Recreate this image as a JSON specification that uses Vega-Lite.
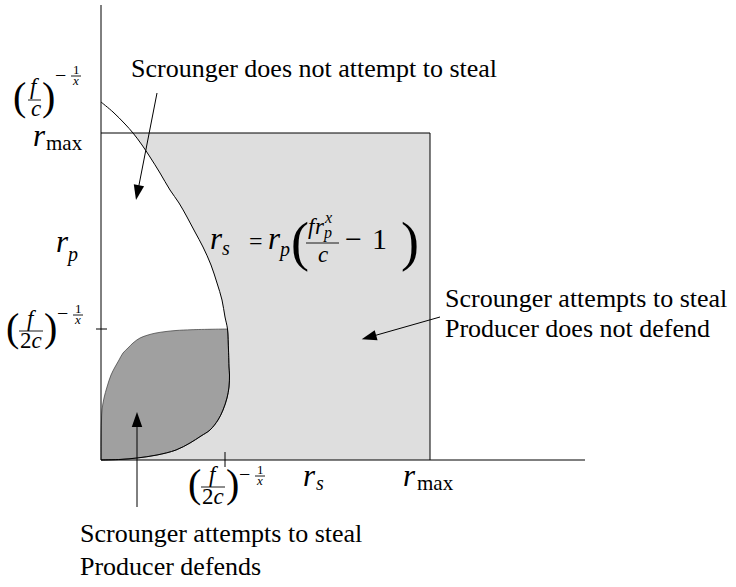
{
  "$schema": "https://vega.github.io/schema/vega-lite/v6.json",
  "width": 736,
  "height": 587,
  "padding": 0,
  "autosize": {"type": "none"},
  "config": {"view": {"stroke": null}},
  "datasets": {
    "curve": [
      {"X": 0, "Y": 0}, {"X": 20, "Y": 0.6}, {"X": 36, "Y": 2}, {"X": 56, "Y": 5}, {"X": 75, "Y": 10},
      {"X": 89, "Y": 17}, {"X": 100, "Y": 24}, {"X": 109, "Y": 30}, {"X": 117, "Y": 40}, {"X": 122, "Y": 50},
      {"X": 126, "Y": 62}, {"X": 128, "Y": 73}, {"X": 128.5, "Y": 85}, {"X": 128, "Y": 93}, {"X": 127.8, "Y": 100},
      {"X": 127.5, "Y": 110}, {"X": 126.5, "Y": 131}, {"X": 124, "Y": 143}, {"X": 121, "Y": 160}, {"X": 116, "Y": 177},
      {"X": 110, "Y": 195}, {"X": 102, "Y": 213}, {"X": 94, "Y": 228}, {"X": 86, "Y": 243}, {"X": 78, "Y": 257},
      {"X": 69, "Y": 270}, {"X": 59, "Y": 287}, {"X": 49, "Y": 303}, {"X": 41, "Y": 315}, {"X": 32, "Y": 327},
      {"X": 24, "Y": 336}, {"X": 12, "Y": 348}, {"X": 0, "Y": 358}
    ],
    "lens": [
      {"Y": 0, "X": 0, "X2": 2}, {"Y": 0.6, "X": 0, "X2": 20}, {"Y": 2, "X": 0, "X2": 36}, {"Y": 5, "X": 0, "X2": 56},
      {"Y": 10, "X": 0, "X2": 75}, {"Y": 17, "X": 0, "X2": 89}, {"Y": 24, "X": 0.1, "X2": 100}, {"Y": 30, "X": 0.2, "X2": 109},
      {"Y": 40, "X": 0.5, "X2": 117}, {"Y": 50, "X": 1, "X2": 122}, {"Y": 62, "X": 3, "X2": 126}, {"Y": 73, "X": 6, "X2": 128},
      {"Y": 85, "X": 10, "X2": 128.5}, {"Y": 93, "X": 14, "X2": 128}, {"Y": 100, "X": 18, "X2": 127.8}, {"Y": 107, "X": 22, "X2": 127.6},
      {"Y": 112, "X": 27, "X2": 127.4}, {"Y": 117, "X": 32, "X2": 127.2}, {"Y": 122, "X": 39, "X2": 127}, {"Y": 125, "X": 47, "X2": 126.9},
      {"Y": 127, "X": 55, "X2": 126.8}, {"Y": 128.5, "X": 65, "X2": 126.7}, {"Y": 129.5, "X": 75, "X2": 126.6}, {"Y": 130.3, "X": 91, "X2": 126.5},
      {"Y": 131, "X": 126, "X2": 126.5}
    ],
    "segs": [
      {"X": 0, "Y": 0, "X2": 0, "Y2": 455},
      {"X": 0, "Y": 0, "X2": 484, "Y2": 0},
      {"X": 0, "Y": 327, "X2": 329, "Y2": 327},
      {"X": 329, "Y": 0, "X2": 329, "Y2": 327},
      {"X": -5, "Y": 131, "X2": 6, "Y2": 131},
      {"X": 124, "Y": -7, "X2": 124, "Y2": 8},
      {"X": 56, "Y": 367, "X2": 36.6, "Y2": 267.8},
      {"X": 339, "Y": 143, "X2": 268.4, "Y2": 122.9},
      {"X": 36, "Y": -47, "X2": 36, "Y2": 40}
    ],
    "bars": [
      {"X": -73, "Y": 360, "X2": -60, "Y2": 360},
      {"X": -30, "Y": 384, "X2": -20, "Y2": 384},
      {"X": -82, "Y": 129, "X2": -58, "Y2": 129},
      {"X": -28, "Y": 145, "X2": -18, "Y2": 145},
      {"X": 100, "Y": -27, "X2": 124, "Y2": -27},
      {"X": 154, "Y": -16, "X2": 164, "Y2": -16},
      {"X": 205, "Y": 217, "X2": 238, "Y2": 217}
    ],
    "heads": [
      {"k": "a1", "X": 35, "Y": 260},
      {"k": "a2", "X": 260.7, "Y": 120.7},
      {"k": "a3", "X": 36, "Y": 48}
    ],
    "rm26": [
      {"X": 30, "Y": 383, "T": "Scrounger does not attempt to steal"},
      {"X": 344, "Y": 153, "T": "Scrounger attempts to steal"},
      {"X": 344, "Y": 123, "T": "Producer does not defend"},
      {"X": -21, "Y": -82, "T": "Scrounger attempts to steal"},
      {"X": -21, "Y": -115, "T": "Producer defends"}
    ],
    "rm23": [
      {"X": -81, "Y": 112, "T": "2"},
      {"X": 101, "Y": -44, "T": "2"}
    ],
    "it23": [
      {"X": -71, "Y": 366, "T": "f"}, {"X": -70, "Y": 344, "T": "c"},
      {"X": -74, "Y": 134, "T": "f"}, {"X": -69.5, "Y": 112, "T": "c"},
      {"X": 108, "Y": -22, "T": "f"}, {"X": 112.5, "Y": -44, "T": "c"},
      {"X": 207, "Y": 226, "T": "f"}, {"X": 214, "Y": 226, "T": "r"}, {"X": 217, "Y": 198, "T": "c"}
    ],
    "it31": [
      {"X": -68, "Y": 314, "T": "r"}, {"X": -45, "Y": 208, "T": "r"},
      {"X": 202, "Y": -26, "T": "r"}, {"X": 302, "Y": -26, "T": "r"},
      {"X": 109, "Y": 211, "T": "r"}, {"X": 167, "Y": 211, "T": "r"}
    ],
    "it20": [
      {"X": -33, "Y": 199, "T": "p"}, {"X": 215, "Y": -30, "T": "s"},
      {"X": 121, "Y": 205, "T": "s"}, {"X": 179, "Y": 204, "T": "p"}
    ],
    "rm21": [
      {"X": -55, "Y": 310, "T": "max"}, {"X": 316, "Y": -30, "T": "max"}
    ],
    "it16": [
      {"X": 223, "Y": 222, "T": "p"}, {"X": 224, "Y": 237, "T": "x"}
    ],
    "rm20": [
      {"X": -46, "Y": 378, "T": "−"}, {"X": -44, "Y": 140, "T": "−"}, {"X": 138, "Y": -21, "T": "−"}
    ],
    "rm13": [
      {"X": -28, "Y": 386, "T": "1"}, {"X": -26, "Y": 147, "T": "1"}, {"X": 156, "Y": -14, "T": "1"}
    ],
    "it13": [
      {"X": -28, "Y": 375, "T": "x"}, {"X": -26, "Y": 136, "T": "x"}, {"X": 156, "Y": -25, "T": "x"}
    ],
    "rm24": [
      {"X": 148, "Y": 211, "T": "="}
    ],
    "rm30": [
      {"X": 244, "Y": 211, "T": "−"}, {"X": 271, "Y": 211, "T": "1"}
    ],
    "paren40": [
      {"X": -88, "Y": 350, "T": "("}, {"X": -59, "Y": 350, "T": ")"},
      {"X": -95, "Y": 119, "T": "("}, {"X": -57, "Y": 119, "T": ")"},
      {"X": 87, "Y": -37, "T": "("}, {"X": 125, "Y": -37, "T": ")"}
    ],
    "paren54": [
      {"X": 190, "Y": 200.5, "T": "("}, {"X": 300, "Y": 200.5, "T": ")"}
    ]
  },
  "encoding": {
    "x": {"field": "X", "type": "quantitative", "scale": {"domain": [-101, 635], "nice": false, "zero": false}, "axis": null},
    "y": {"field": "Y", "type": "quantitative", "scale": {"domain": [-127, 460], "nice": false, "zero": false}, "axis": null}
  },
  "layer": [
    {
      "data": {"name": "curve"},
      "transform": [{"filter": "datum.Y <= 327"}],
      "mark": {"type": "area", "orient": "horizontal", "color": "#dedede", "interpolate": "catmull-rom"},
      "encoding": {"x2": {"datum": 329}}
    },
    {
      "data": {"name": "lens"},
      "mark": {"type": "area", "orient": "horizontal", "color": "#a0a0a0", "stroke": "#3a3a3a", "strokeWidth": 0.7, "interpolate": "catmull-rom"},
      "encoding": {"x2": {"field": "X2"}}
    },
    {
      "data": {"name": "curve"},
      "mark": {"type": "line", "color": "black", "strokeWidth": 1, "interpolate": "catmull-rom"},
      "encoding": {"order": {"field": "Y", "type": "quantitative"}}
    },
    {
      "data": {"name": "segs"},
      "mark": {"type": "rule", "color": "black", "strokeWidth": 1},
      "encoding": {"x2": {"field": "X2"}, "y2": {"field": "Y2"}}
    },
    {
      "data": {"name": "bars"},
      "mark": {"type": "rule", "color": "black", "strokeWidth": 0.9},
      "encoding": {"x2": {"field": "X2"}, "y2": {"field": "Y2"}}
    },
    {
      "data": {"name": "heads"},
      "transform": [{"filter": "datum.k == 'a1'"}],
      "mark": {"type": "point", "shape": "M0,0L-0.35,1L0.35,1Z", "size": 900, "filled": true, "color": "black", "opacity": 1, "angle": 191.3}
    },
    {
      "data": {"name": "heads"},
      "transform": [{"filter": "datum.k == 'a2'"}],
      "mark": {"type": "point", "shape": "M0,0L-0.35,1L0.35,1Z", "size": 900, "filled": true, "color": "black", "opacity": 1, "angle": 254.25}
    },
    {
      "data": {"name": "heads"},
      "transform": [{"filter": "datum.k == 'a3'"}],
      "mark": {"type": "point", "shape": "M0,0L-0.35,1L0.35,1Z", "size": 900, "filled": true, "color": "black", "opacity": 1, "angle": 0}
    },
    {
      "data": {"name": "rm26"},
      "mark": {"type": "text", "font": "Liberation Serif", "fontSize": 26, "align": "left", "baseline": "alphabetic", "color": "black"},
      "encoding": {"text": {"field": "T"}}
    },
    {
      "data": {"name": "rm23"},
      "mark": {"type": "text", "font": "Liberation Serif", "fontSize": 23, "align": "left", "baseline": "alphabetic", "color": "black"},
      "encoding": {"text": {"field": "T"}}
    },
    {
      "data": {"name": "it23"},
      "mark": {"type": "text", "font": "Liberation Serif", "fontStyle": "italic", "fontSize": 23, "align": "left", "baseline": "alphabetic", "color": "black"},
      "encoding": {"text": {"field": "T"}}
    },
    {
      "data": {"name": "it31"},
      "mark": {"type": "text", "font": "Liberation Serif", "fontStyle": "italic", "fontSize": 31, "align": "left", "baseline": "alphabetic", "color": "black"},
      "encoding": {"text": {"field": "T"}}
    },
    {
      "data": {"name": "it20"},
      "mark": {"type": "text", "font": "Liberation Serif", "fontStyle": "italic", "fontSize": 20, "align": "left", "baseline": "alphabetic", "color": "black"},
      "encoding": {"text": {"field": "T"}}
    },
    {
      "data": {"name": "rm21"},
      "mark": {"type": "text", "font": "Liberation Serif", "fontSize": 21, "align": "left", "baseline": "alphabetic", "color": "black"},
      "encoding": {"text": {"field": "T"}}
    },
    {
      "data": {"name": "it16"},
      "mark": {"type": "text", "font": "Liberation Serif", "fontStyle": "italic", "fontSize": 16, "align": "left", "baseline": "alphabetic", "color": "black"},
      "encoding": {"text": {"field": "T"}}
    },
    {
      "data": {"name": "rm20"},
      "mark": {"type": "text", "font": "Liberation Serif", "fontSize": 20, "align": "left", "baseline": "alphabetic", "color": "black"},
      "encoding": {"text": {"field": "T"}}
    },
    {
      "data": {"name": "rm13"},
      "mark": {"type": "text", "font": "Liberation Serif", "fontSize": 13, "align": "left", "baseline": "alphabetic", "color": "black"},
      "encoding": {"text": {"field": "T"}}
    },
    {
      "data": {"name": "it13"},
      "mark": {"type": "text", "font": "Liberation Serif", "fontStyle": "italic", "fontSize": 13, "align": "left", "baseline": "alphabetic", "color": "black"},
      "encoding": {"text": {"field": "T"}}
    },
    {
      "data": {"name": "rm24"},
      "mark": {"type": "text", "font": "Liberation Serif", "fontSize": 24, "align": "left", "baseline": "alphabetic", "color": "black"},
      "encoding": {"text": {"field": "T"}}
    },
    {
      "data": {"name": "rm30"},
      "mark": {"type": "text", "font": "Liberation Serif", "fontSize": 30, "align": "left", "baseline": "alphabetic", "color": "black"},
      "encoding": {"text": {"field": "T"}}
    },
    {
      "data": {"name": "paren40"},
      "mark": {"type": "text", "font": "Liberation Serif", "fontSize": 40, "align": "left", "baseline": "alphabetic", "color": "black"},
      "encoding": {"text": {"field": "T"}}
    },
    {
      "data": {"name": "paren54"},
      "mark": {"type": "text", "font": "Liberation Serif", "fontSize": 54, "align": "left", "baseline": "alphabetic", "color": "black"},
      "encoding": {"text": {"field": "T"}}
    }
  ]
}
